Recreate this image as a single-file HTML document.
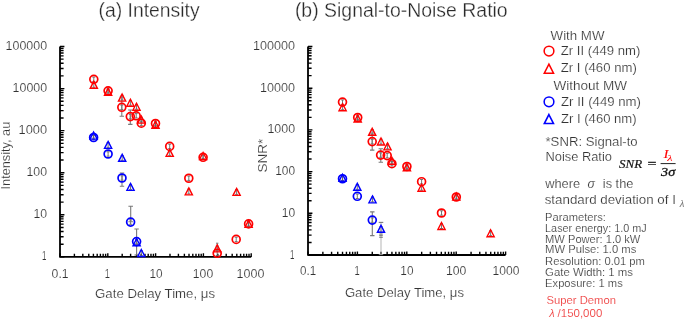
<!DOCTYPE html>
<html><head><meta charset="utf-8"><style>
html,body{margin:0;padding:0;background:#fff;width:685px;height:320px;overflow:hidden}
svg{display:block;will-change:transform}
</style></head><body>
<svg width="685" height="320" viewBox="0 0 685 320">
<rect width="685" height="320" fill="#fff"/>
<path d="M60.0 46.5V256.9H251.2" stroke="#000" stroke-width="1.8" fill="none" stroke-linejoin="round"/>
<path d="M60.0 256.90H64.4M60.0 244.23H63.6M60.0 236.82H63.6M60.0 231.57H63.6M60.0 227.49H63.6M60.0 224.16H63.6M60.0 221.34H63.6M60.0 218.90H63.6M60.0 216.75H63.6M60.0 214.82H64.4M60.0 202.15H63.6M60.0 194.74H63.6M60.0 189.49H63.6M60.0 185.41H63.6M60.0 182.08H63.6M60.0 179.26H63.6M60.0 176.82H63.6M60.0 174.67H63.6M60.0 172.74H64.4M60.0 160.07H63.6M60.0 152.66H63.6M60.0 147.41H63.6M60.0 143.33H63.6M60.0 140.00H63.6M60.0 137.18H63.6M60.0 134.74H63.6M60.0 132.59H63.6M60.0 130.66H64.4M60.0 117.99H63.6M60.0 110.58H63.6M60.0 105.33H63.6M60.0 101.25H63.6M60.0 97.92H63.6M60.0 95.10H63.6M60.0 92.66H63.6M60.0 90.51H63.6M60.0 88.58H64.4M60.0 75.91H63.6M60.0 68.50H63.6M60.0 63.25H63.6M60.0 59.17H63.6M60.0 55.84H63.6M60.0 53.02H63.6M60.0 50.58H63.6M60.0 48.43H63.6M60.0 46.50H64.4M60.00 256.9V253.29999999999998M74.39 256.9V253.7M82.81 256.9V253.7M88.78 256.9V253.7M93.41 256.9V253.7M97.20 256.9V253.7M100.40 256.9V253.7M103.17 256.9V253.7M105.61 256.9V253.7M107.80 256.9V253.29999999999998M122.19 256.9V253.7M130.61 256.9V253.7M136.58 256.9V253.7M141.21 256.9V253.7M145.00 256.9V253.7M148.20 256.9V253.7M150.97 256.9V253.7M153.41 256.9V253.7M155.60 256.9V253.29999999999998M169.99 256.9V253.7M178.41 256.9V253.7M184.38 256.9V253.7M189.01 256.9V253.7M192.80 256.9V253.7M196.00 256.9V253.7M198.77 256.9V253.7M201.21 256.9V253.7M203.40 256.9V253.29999999999998M217.79 256.9V253.7M226.21 256.9V253.7M232.18 256.9V253.7M236.81 256.9V253.7M240.60 256.9V253.7M243.80 256.9V253.7M246.57 256.9V253.7M249.01 256.9V253.7M251.20 256.9V253.29999999999998" stroke="#000" stroke-width="1.4" fill="none"/>
<path d="M308.0 46.5V255.0H505.6" stroke="#000" stroke-width="1.8" fill="none" stroke-linejoin="round"/>
<path d="M308.0 255.00H312.4M308.0 242.45H311.6M308.0 235.10H311.6M308.0 229.89H311.6M308.0 225.85H311.6M308.0 222.55H311.6M308.0 219.76H311.6M308.0 217.34H311.6M308.0 215.21H311.6M308.0 213.30H312.4M308.0 200.75H311.6M308.0 193.40H311.6M308.0 188.19H311.6M308.0 184.15H311.6M308.0 180.85H311.6M308.0 178.06H311.6M308.0 175.64H311.6M308.0 173.51H311.6M308.0 171.60H312.4M308.0 159.05H311.6M308.0 151.70H311.6M308.0 146.49H311.6M308.0 142.45H311.6M308.0 139.15H311.6M308.0 136.36H311.6M308.0 133.94H311.6M308.0 131.81H311.6M308.0 129.90H312.4M308.0 117.35H311.6M308.0 110.00H311.6M308.0 104.79H311.6M308.0 100.75H311.6M308.0 97.45H311.6M308.0 94.66H311.6M308.0 92.24H311.6M308.0 90.11H311.6M308.0 88.20H312.4M308.0 75.65H311.6M308.0 68.30H311.6M308.0 63.09H311.6M308.0 59.05H311.6M308.0 55.75H311.6M308.0 52.96H311.6M308.0 50.54H311.6M308.0 48.41H311.6M308.0 46.50H312.4M308.00 255.0V251.4M322.87 255.0V251.8M331.57 255.0V251.8M337.74 255.0V251.8M342.53 255.0V251.8M346.44 255.0V251.8M349.75 255.0V251.8M352.61 255.0V251.8M355.14 255.0V251.8M357.40 255.0V251.4M372.27 255.0V251.8M380.97 255.0V251.8M387.14 255.0V251.8M391.93 255.0V251.8M395.84 255.0V251.8M399.15 255.0V251.8M402.01 255.0V251.8M404.54 255.0V251.8M406.80 255.0V251.4M421.67 255.0V251.8M430.37 255.0V251.8M436.54 255.0V251.8M441.33 255.0V251.8M445.24 255.0V251.8M448.55 255.0V251.8M451.41 255.0V251.8M453.94 255.0V251.8M456.20 255.0V251.4M471.07 255.0V251.8M479.77 255.0V251.8M485.94 255.0V251.8M490.73 255.0V251.8M494.64 255.0V251.8M497.95 255.0V251.8M500.81 255.0V251.8M503.34 255.0V251.8M505.60 255.0V251.4" stroke="#000" stroke-width="1.4" fill="none"/>
<text x="98.50" y="16.80" textLength="101.18" lengthAdjust="spacingAndGlyphs" fill="#2a2a2a" stroke="#fff" stroke-width="0.28" style='font-family:"Liberation Sans";font-style:normal;font-size:19.5px'>(a) Intensity</text>
<text x="294.90" y="16.50" textLength="212.78" lengthAdjust="spacingAndGlyphs" fill="#2a2a2a" stroke="#fff" stroke-width="0.28" style='font-family:"Liberation Sans";font-style:normal;font-size:19.5px'>(b) Signal-to-Noise Ratio</text>
<text x="5.60" y="50.00" textLength="41.53" lengthAdjust="spacingAndGlyphs" fill="#333333" stroke="#fff" stroke-width="0.18" style='font-family:"Liberation Sans";font-style:normal;font-size:12.8px'>100000</text>
<text x="12.60" y="92.00" textLength="34.51" lengthAdjust="spacingAndGlyphs" fill="#333333" stroke="#fff" stroke-width="0.18" style='font-family:"Liberation Sans";font-style:normal;font-size:12.8px'>10000</text>
<text x="18.60" y="134.00" textLength="28.50" lengthAdjust="spacingAndGlyphs" fill="#333333" stroke="#fff" stroke-width="0.18" style='font-family:"Liberation Sans";font-style:normal;font-size:12.8px'>1000</text>
<text x="26.50" y="176.00" textLength="20.58" lengthAdjust="spacingAndGlyphs" fill="#333333" stroke="#fff" stroke-width="0.18" style='font-family:"Liberation Sans";font-style:normal;font-size:12.8px'>100</text>
<text x="33.50" y="218.00" textLength="13.63" lengthAdjust="spacingAndGlyphs" fill="#333333" stroke="#fff" stroke-width="0.18" style='font-family:"Liberation Sans";font-style:normal;font-size:12.8px'>10</text>
<text x="41.90" y="260.00" textLength="4.41" lengthAdjust="spacingAndGlyphs" fill="#333333" stroke="#fff" stroke-width="0.18" style='font-family:"Liberation Sans";font-style:normal;font-size:12.8px'>1</text>
<text x="253.10" y="50.00" textLength="42.03" lengthAdjust="spacingAndGlyphs" fill="#333333" stroke="#fff" stroke-width="0.18" style='font-family:"Liberation Sans";font-style:normal;font-size:12.8px'>100000</text>
<text x="260.10" y="91.70" textLength="35.01" lengthAdjust="spacingAndGlyphs" fill="#333333" stroke="#fff" stroke-width="0.18" style='font-family:"Liberation Sans";font-style:normal;font-size:12.8px'>10000</text>
<text x="267.40" y="133.40" textLength="27.70" lengthAdjust="spacingAndGlyphs" fill="#333333" stroke="#fff" stroke-width="0.18" style='font-family:"Liberation Sans";font-style:normal;font-size:12.8px'>1000</text>
<text x="275.20" y="175.10" textLength="19.88" lengthAdjust="spacingAndGlyphs" fill="#333333" stroke="#fff" stroke-width="0.18" style='font-family:"Liberation Sans";font-style:normal;font-size:12.8px'>100</text>
<text x="281.70" y="216.80" textLength="13.43" lengthAdjust="spacingAndGlyphs" fill="#333333" stroke="#fff" stroke-width="0.18" style='font-family:"Liberation Sans";font-style:normal;font-size:12.8px'>10</text>
<text x="289.90" y="258.50" textLength="4.41" lengthAdjust="spacingAndGlyphs" fill="#333333" stroke="#fff" stroke-width="0.18" style='font-family:"Liberation Sans";font-style:normal;font-size:12.8px'>1</text>
<text x="51.60" y="277.75" textLength="17.00" lengthAdjust="spacingAndGlyphs" fill="#333333" stroke="#fff" stroke-width="0.18" style='font-family:"Liberation Sans";font-style:normal;font-size:12.8px'>0.1</text>
<text x="104.80" y="277.75" textLength="5.21" lengthAdjust="spacingAndGlyphs" fill="#333333" stroke="#fff" stroke-width="0.18" style='font-family:"Liberation Sans";font-style:normal;font-size:12.8px'>1</text>
<text x="149.45" y="277.75" textLength="13.13" lengthAdjust="spacingAndGlyphs" fill="#333333" stroke="#fff" stroke-width="0.18" style='font-family:"Liberation Sans";font-style:normal;font-size:12.8px'>10</text>
<text x="192.80" y="277.75" textLength="20.38" lengthAdjust="spacingAndGlyphs" fill="#333333" stroke="#fff" stroke-width="0.18" style='font-family:"Liberation Sans";font-style:normal;font-size:12.8px'>100</text>
<text x="236.55" y="277.75" textLength="27.90" lengthAdjust="spacingAndGlyphs" fill="#333333" stroke="#fff" stroke-width="0.18" style='font-family:"Liberation Sans";font-style:normal;font-size:12.8px'>1000</text>
<text x="300.00" y="275.30" textLength="16.20" lengthAdjust="spacingAndGlyphs" fill="#333333" stroke="#fff" stroke-width="0.18" style='font-family:"Liberation Sans";font-style:normal;font-size:12.8px'>0.1</text>
<text x="354.60" y="275.30" textLength="5.21" lengthAdjust="spacingAndGlyphs" fill="#333333" stroke="#fff" stroke-width="0.18" style='font-family:"Liberation Sans";font-style:normal;font-size:12.8px'>1</text>
<text x="400.35" y="275.30" textLength="13.13" lengthAdjust="spacingAndGlyphs" fill="#333333" stroke="#fff" stroke-width="0.18" style='font-family:"Liberation Sans";font-style:normal;font-size:12.8px'>10</text>
<text x="446.00" y="275.30" textLength="20.38" lengthAdjust="spacingAndGlyphs" fill="#333333" stroke="#fff" stroke-width="0.18" style='font-family:"Liberation Sans";font-style:normal;font-size:12.8px'>100</text>
<text x="492.60" y="275.30" textLength="26.80" lengthAdjust="spacingAndGlyphs" fill="#333333" stroke="#fff" stroke-width="0.18" style='font-family:"Liberation Sans";font-style:normal;font-size:12.8px'>1000</text>
<text x="95.10" y="298.40" textLength="119.89" lengthAdjust="spacingAndGlyphs" fill="#333333" stroke="#fff" stroke-width="0.18" style='font-family:"Liberation Sans";font-style:normal;font-size:13.4px'>Gate Delay Time, μs</text>
<text x="344.90" y="297.00" textLength="119.09" lengthAdjust="spacingAndGlyphs" fill="#333333" stroke="#fff" stroke-width="0.18" style='font-family:"Liberation Sans";font-style:normal;font-size:13.4px'>Gate Delay Time, μs</text>
<text x="10.20" y="189.40" textLength="67.62" lengthAdjust="spacingAndGlyphs" fill="#333333" stroke="#fff" stroke-width="0.18" style='font-family:"Liberation Sans";font-style:normal;font-size:13.4px' transform="rotate(-90 10.2 189.4)">Intensity, au</text>
<text x="267.20" y="172.50" textLength="33.76" lengthAdjust="spacingAndGlyphs" fill="#333333" stroke="#fff" stroke-width="0.18" style='font-family:"Liberation Sans";font-style:normal;font-size:13.4px' transform="rotate(-90 267.2 172.5)">SNR*</text>
<text x="550.60" y="40.20" textLength="53.90" lengthAdjust="spacingAndGlyphs" fill="#333333" stroke="#fff" stroke-width="0.18" style='font-family:"Liberation Sans";font-style:normal;font-size:12.4px'>With MW</text>
<text x="560.80" y="55.00" textLength="79.52" lengthAdjust="spacingAndGlyphs" fill="#333333" stroke="#fff" stroke-width="0.18" style='font-family:"Liberation Sans";font-style:normal;font-size:12.4px'>Zr II (449 nm)</text>
<text x="560.80" y="71.60" textLength="75.99" lengthAdjust="spacingAndGlyphs" fill="#333333" stroke="#fff" stroke-width="0.18" style='font-family:"Liberation Sans";font-style:normal;font-size:12.4px'>Zr I (460 nm)</text>
<text x="553.40" y="90.10" textLength="73.60" lengthAdjust="spacingAndGlyphs" fill="#333333" stroke="#fff" stroke-width="0.18" style='font-family:"Liberation Sans";font-style:normal;font-size:12.4px'>Without MW</text>
<text x="561.00" y="106.00" textLength="80.02" lengthAdjust="spacingAndGlyphs" fill="#333333" stroke="#fff" stroke-width="0.18" style='font-family:"Liberation Sans";font-style:normal;font-size:12.4px'>Zr II (449 nm)</text>
<text x="561.00" y="123.40" textLength="75.59" lengthAdjust="spacingAndGlyphs" fill="#333333" stroke="#fff" stroke-width="0.18" style='font-family:"Liberation Sans";font-style:normal;font-size:12.4px'>Zr I (460 nm)</text>
<circle cx="549" cy="51.1" r="4.85" fill="none" stroke="#ff0000" stroke-width="1.55"/>
<path d="M548.9 64.21L553.50 73.21L544.30 73.21Z" fill="none" stroke="#ff0000" stroke-width="1.55" stroke-linejoin="miter"/>
<circle cx="549" cy="101.85" r="4.85" fill="none" stroke="#0000ff" stroke-width="1.55"/>
<path d="M548.9 114.56L553.50 123.56L544.30 123.56Z" fill="none" stroke="#0000ff" stroke-width="1.55" stroke-linejoin="miter"/>
<text x="545.50" y="145.60" textLength="92.18" lengthAdjust="spacingAndGlyphs" fill="#333333" stroke="#fff" stroke-width="0.18" style='font-family:"Liberation Sans";font-style:normal;font-size:12.4px'>*SNR: Signal-to</text>
<text x="545.50" y="160.50" textLength="66.39" lengthAdjust="spacingAndGlyphs" fill="#333333" stroke="#fff" stroke-width="0.18" style='font-family:"Liberation Sans";font-style:normal;font-size:12.4px'>Noise Ratio</text>
<text x="619.00" y="167.50" textLength="23.17" lengthAdjust="spacingAndGlyphs" fill="#111" stroke="#111" stroke-width="0.2" style='font-family:"Liberation Serif";font-style:italic;font-size:13.2px'>SNR</text>
<text x="647.50" y="167.90" textLength="8.98" lengthAdjust="spacingAndGlyphs" fill="#111" stroke="#111" stroke-width="0.3" style='font-family:"Liberation Serif";font-style:normal;font-size:13.2px'>=</text>
<path d="M660.6 163.6H675.6" stroke="#222" stroke-width="1"/>
<text x="663.67" y="157.50" textLength="4.56" lengthAdjust="spacingAndGlyphs" fill="#ff0000" stroke="#ff0000" stroke-width="0.2" style='font-family:"Liberation Serif";font-style:italic;font-size:12.5px'>I</text>
<text x="667.20" y="160.60" textLength="5.27" lengthAdjust="spacingAndGlyphs" fill="#ff0000" style='font-family:"Liberation Serif";font-style:italic;font-size:8.5px'>λ</text>
<text x="661.07" y="175.60" textLength="14.08" lengthAdjust="spacingAndGlyphs" fill="#111" stroke="#111" stroke-width="0.3" style='font-family:"Liberation Serif";font-style:italic;font-size:12.5px'>3σ</text>
<text x="545.16" y="188.10" textLength="34.92" lengthAdjust="spacingAndGlyphs" fill="#333333" stroke="#fff" stroke-width="0.18" style='font-family:"Liberation Sans";font-style:normal;font-size:12.4px'>where</text>
<text x="587.40" y="188.10" textLength="7.41" lengthAdjust="spacingAndGlyphs" fill="#333333" stroke="#fff" stroke-width="0.18" style='font-family:"Liberation Sans";font-style:italic;font-size:12.4px'>σ</text>
<text x="602.80" y="188.10" textLength="30.60" lengthAdjust="spacingAndGlyphs" fill="#333333" stroke="#fff" stroke-width="0.18" style='font-family:"Liberation Sans";font-style:normal;font-size:12.4px'>is the</text>
<text x="544.70" y="203.90" textLength="131.20" lengthAdjust="spacingAndGlyphs" fill="#333333" stroke="#fff" stroke-width="0.18" style='font-family:"Liberation Sans";font-style:normal;font-size:12.4px'>standard deviation of I</text>
<text x="679.86" y="207.20" textLength="4.56" lengthAdjust="spacingAndGlyphs" fill="#333333" stroke="#fff" stroke-width="0.18" style='font-family:"Liberation Sans";font-style:italic;font-size:8.5px'>λ</text>
<text x="545.10" y="220.50" textLength="60.72" lengthAdjust="spacingAndGlyphs" fill="#333333" stroke="#fff" stroke-width="0.18" style='font-family:"Liberation Sans";font-style:normal;font-size:11.2px'>Parameters:</text>
<text x="545.10" y="231.80" textLength="101.69" lengthAdjust="spacingAndGlyphs" fill="#333333" stroke="#fff" stroke-width="0.18" style='font-family:"Liberation Sans";font-style:normal;font-size:11.2px'>Laser energy: 1.0 mJ</text>
<text x="545.10" y="242.50" textLength="95.26" lengthAdjust="spacingAndGlyphs" fill="#333333" stroke="#fff" stroke-width="0.18" style='font-family:"Liberation Sans";font-style:normal;font-size:11.2px'>MW Power: 1.0 kW</text>
<text x="545.10" y="253.40" textLength="91.28" lengthAdjust="spacingAndGlyphs" fill="#333333" stroke="#fff" stroke-width="0.18" style='font-family:"Liberation Sans";font-style:normal;font-size:11.2px'>MW Pulse: 1.0 ms</text>
<text x="545.10" y="265.00" textLength="99.89" lengthAdjust="spacingAndGlyphs" fill="#333333" stroke="#fff" stroke-width="0.18" style='font-family:"Liberation Sans";font-style:normal;font-size:11.2px'>Resolution: 0.01 pm</text>
<text x="545.10" y="276.00" textLength="87.90" lengthAdjust="spacingAndGlyphs" fill="#333333" stroke="#fff" stroke-width="0.18" style='font-family:"Liberation Sans";font-style:normal;font-size:11.2px'>Gate Width: 1 ms</text>
<text x="545.10" y="286.90" textLength="77.63" lengthAdjust="spacingAndGlyphs" fill="#333333" stroke="#fff" stroke-width="0.18" style='font-family:"Liberation Sans";font-style:normal;font-size:11.2px'>Exposure: 1 ms</text>
<text x="546.60" y="304.20" textLength="69.40" lengthAdjust="spacingAndGlyphs" fill="#ee3030" stroke="#fff" stroke-width="0.15" style='font-family:"Liberation Sans";font-style:normal;font-size:11.4px'>Super Demon</text>
<text x="549.16" y="317.00" textLength="5.47" lengthAdjust="spacingAndGlyphs" fill="#ee3030" stroke="#fff" stroke-width="0.15" style='font-family:"Liberation Sans";font-style:italic;font-size:11.4px'>λ</text>
<text x="557.60" y="317.00" textLength="44.67" lengthAdjust="spacingAndGlyphs" fill="#ee3030" stroke="#fff" stroke-width="0.15" style='font-family:"Liberation Sans";font-style:normal;font-size:11.4px'>/150,000</text>
<path d="M93.8 77.1V81.5M92.3 77.1H95.3M92.3 81.5H95.3" stroke="#666" stroke-width="0.9" fill="none"/>
<path d="M108.1 88.6V93.0M106.6 88.6H109.6M106.6 93.0H109.6" stroke="#666" stroke-width="0.9" fill="none"/>
<path d="M121.8 105.1V109.5M120.3 105.1H123.3M120.3 109.5H123.3" stroke="#666" stroke-width="0.9" fill="none"/>
<path d="M130.3 114.39999999999999V118.8M128.8 114.39999999999999H131.8M128.8 118.8H131.8" stroke="#666" stroke-width="0.9" fill="none"/>
<path d="M136.2 113.6V118.0M134.7 113.6H137.7M134.7 118.0H137.7" stroke="#666" stroke-width="0.9" fill="none"/>
<path d="M141.3 121.0V125.4M139.8 121.0H142.8M139.8 125.4H142.8" stroke="#666" stroke-width="0.9" fill="none"/>
<path d="M155.5 121.3V125.7M154.0 121.3H157.0M154.0 125.7H157.0" stroke="#666" stroke-width="0.9" fill="none"/>
<path d="M169.7 144.20000000000002V148.6M168.2 144.20000000000002H171.2M168.2 148.6H171.2" stroke="#666" stroke-width="0.9" fill="none"/>
<path d="M188.8 176.05V180.45M187.3 176.05H190.3M187.3 180.45H190.3" stroke="#666" stroke-width="0.9" fill="none"/>
<path d="M203.1 155.10000000000002V159.5M201.6 155.10000000000002H204.6M201.6 159.5H204.6" stroke="#666" stroke-width="0.9" fill="none"/>
<path d="M217.2 251.10000000000002V255.5M215.7 251.10000000000002H218.7M215.7 255.5H218.7" stroke="#666" stroke-width="0.9" fill="none"/>
<path d="M236.2 237.20000000000002V241.6M234.7 237.20000000000002H237.7M234.7 241.6H237.7" stroke="#666" stroke-width="0.9" fill="none"/>
<path d="M248.6 221.70000000000002V226.1M247.1 221.70000000000002H250.1M247.1 226.1H250.1" stroke="#666" stroke-width="0.9" fill="none"/>
<path d="M342.5 99.89999999999999V104.3M341.0 99.89999999999999H344.0M341.0 104.3H344.0" stroke="#666" stroke-width="0.9" fill="none"/>
<path d="M357.7 115.3V119.7M356.2 115.3H359.2M356.2 119.7H359.2" stroke="#666" stroke-width="0.9" fill="none"/>
<path d="M372.2 139.4V143.79999999999998M370.7 139.4H373.7M370.7 143.79999999999998H373.7" stroke="#666" stroke-width="0.9" fill="none"/>
<path d="M380.6 152.9V157.29999999999998M379.1 152.9H382.1M379.1 157.29999999999998H382.1" stroke="#666" stroke-width="0.9" fill="none"/>
<path d="M387.2 153.4V157.79999999999998M385.7 153.4H388.7M385.7 157.79999999999998H388.7" stroke="#666" stroke-width="0.9" fill="none"/>
<path d="M391.9 161.5V165.89999999999998M390.4 161.5H393.4M390.4 165.89999999999998H393.4" stroke="#666" stroke-width="0.9" fill="none"/>
<path d="M406.9 164.3V168.7M405.4 164.3H408.4M405.4 168.7H408.4" stroke="#666" stroke-width="0.9" fill="none"/>
<path d="M421.6 179.5V183.89999999999998M420.1 179.5H423.1M420.1 183.89999999999998H423.1" stroke="#666" stroke-width="0.9" fill="none"/>
<path d="M441.5 210.8V215.2M440.0 210.8H443.0M440.0 215.2H443.0" stroke="#666" stroke-width="0.9" fill="none"/>
<path d="M456.3 194.8V199.2M454.8 194.8H457.8M454.8 199.2H457.8" stroke="#666" stroke-width="0.9" fill="none"/>
<path d="M93.6 135.3V139.7M92.1 135.3H95.1M92.1 139.7H95.1" stroke="#666" stroke-width="0.9" fill="none"/>
<path d="M108.1 151.8V156.2M106.6 151.8H109.6M106.6 156.2H109.6" stroke="#666" stroke-width="0.9" fill="none"/>
<path d="M122.0 175.8V180.2M120.5 175.8H123.5M120.5 180.2H123.5" stroke="#666" stroke-width="0.9" fill="none"/>
<path d="M130.6 219.9V224.29999999999998M129.1 219.9H132.1M129.1 224.29999999999998H132.1" stroke="#666" stroke-width="0.9" fill="none"/>
<path d="M136.6 239.4V243.79999999999998M135.1 239.4H138.1M135.1 243.79999999999998H138.1" stroke="#666" stroke-width="0.9" fill="none"/>
<path d="M342.5 176.55V180.95M341.0 176.55H344.0M341.0 180.95H344.0" stroke="#666" stroke-width="0.9" fill="none"/>
<path d="M357.3 194.10000000000002V198.5M355.8 194.10000000000002H358.8M355.8 198.5H358.8" stroke="#666" stroke-width="0.9" fill="none"/>
<path d="M372.3 217.9V222.29999999999998M370.8 217.9H373.8M370.8 222.29999999999998H373.8" stroke="#666" stroke-width="0.9" fill="none"/>
<path d="M93.8 82.5V87.30000000000001M92.3 82.5H95.3M92.3 87.30000000000001H95.3" stroke="#666" stroke-width="0.9" fill="none"/>
<path d="M108.1 89.5V94.30000000000001M106.6 89.5H109.6M106.6 94.30000000000001H109.6" stroke="#666" stroke-width="0.9" fill="none"/>
<path d="M122.1 95.3V100.10000000000001M120.6 95.3H123.6M120.6 100.10000000000001H123.6" stroke="#666" stroke-width="0.9" fill="none"/>
<path d="M130.4 100.39999999999999V105.2M128.9 100.39999999999999H131.9M128.9 105.2H131.9" stroke="#666" stroke-width="0.9" fill="none"/>
<path d="M136.5 104.39999999999999V109.2M135.0 104.39999999999999H138.0M135.0 109.2H138.0" stroke="#666" stroke-width="0.9" fill="none"/>
<path d="M141.3 117.3V122.10000000000001M139.8 117.3H142.8M139.8 122.10000000000001H142.8" stroke="#666" stroke-width="0.9" fill="none"/>
<path d="M155.5 122.39999999999999V127.2M154.0 122.39999999999999H157.0M154.0 127.2H157.0" stroke="#666" stroke-width="0.9" fill="none"/>
<path d="M169.7 150.6V155.4M168.2 150.6H171.2M168.2 155.4H171.2" stroke="#666" stroke-width="0.9" fill="none"/>
<path d="M188.8 189.1V193.9M187.3 189.1H190.3M187.3 193.9H190.3" stroke="#666" stroke-width="0.9" fill="none"/>
<path d="M203.1 153.7V158.5M201.6 153.7H204.6M201.6 158.5H204.6" stroke="#666" stroke-width="0.9" fill="none"/>
<path d="M217.2 246.1V250.9M215.7 246.1H218.7M215.7 250.9H218.7" stroke="#666" stroke-width="0.9" fill="none"/>
<path d="M236.6 189.6V194.4M235.1 189.6H238.1M235.1 194.4H238.1" stroke="#666" stroke-width="0.9" fill="none"/>
<path d="M248.6 221.5V226.3M247.1 221.5H250.1M247.1 226.3H250.1" stroke="#666" stroke-width="0.9" fill="none"/>
<path d="M342.6 104.89999999999999V109.7M341.1 104.89999999999999H344.1M341.1 109.7H344.1" stroke="#666" stroke-width="0.9" fill="none"/>
<path d="M357.7 116.19999999999999V121.0M356.2 116.19999999999999H359.2M356.2 121.0H359.2" stroke="#666" stroke-width="0.9" fill="none"/>
<path d="M372.2 129.5V134.3M370.7 129.5H373.7M370.7 134.3H373.7" stroke="#666" stroke-width="0.9" fill="none"/>
<path d="M381.0 139.2V144.0M379.5 139.2H382.5M379.5 144.0H382.5" stroke="#666" stroke-width="0.9" fill="none"/>
<path d="M387.5 144.1V148.9M386.0 144.1H389.0M386.0 148.9H389.0" stroke="#666" stroke-width="0.9" fill="none"/>
<path d="M391.9 158.4V163.20000000000002M390.4 158.4H393.4M390.4 163.20000000000002H393.4" stroke="#666" stroke-width="0.9" fill="none"/>
<path d="M406.9 165.0V169.8M405.4 165.0H408.4M405.4 169.8H408.4" stroke="#666" stroke-width="0.9" fill="none"/>
<path d="M421.6 185.4V190.20000000000002M420.1 185.4H423.1M420.1 190.20000000000002H423.1" stroke="#666" stroke-width="0.9" fill="none"/>
<path d="M441.5 223.7V228.5M440.0 223.7H443.0M440.0 228.5H443.0" stroke="#666" stroke-width="0.9" fill="none"/>
<path d="M456.3 194.29999999999998V199.1M454.8 194.29999999999998H457.8M454.8 199.1H457.8" stroke="#666" stroke-width="0.9" fill="none"/>
<path d="M490.6 230.9V235.70000000000002M489.1 230.9H492.1M489.1 235.70000000000002H492.1" stroke="#666" stroke-width="0.9" fill="none"/>
<path d="M93.6 133.29999999999998V138.1M92.1 133.29999999999998H95.1M92.1 138.1H95.1" stroke="#666" stroke-width="0.9" fill="none"/>
<path d="M108.1 142.6V147.4M106.6 142.6H109.6M106.6 147.4H109.6" stroke="#666" stroke-width="0.9" fill="none"/>
<path d="M122.2 155.5V160.3M120.7 155.5H123.7M120.7 160.3H123.7" stroke="#666" stroke-width="0.9" fill="none"/>
<path d="M130.5 184.6V189.4M129.0 184.6H132.0M129.0 189.4H132.0" stroke="#666" stroke-width="0.9" fill="none"/>
<path d="M136.6 239.9V244.70000000000002M135.1 239.9H138.1M135.1 244.70000000000002H138.1" stroke="#666" stroke-width="0.9" fill="none"/>
<path d="M141.3 250.7V255.5M139.8 250.7H142.8M139.8 255.5H142.8" stroke="#666" stroke-width="0.9" fill="none"/>
<path d="M342.5 175.5V180.3M341.0 175.5H344.0M341.0 180.3H344.0" stroke="#666" stroke-width="0.9" fill="none"/>
<path d="M357.3 184.5V189.3M355.8 184.5H358.8M355.8 189.3H358.8" stroke="#666" stroke-width="0.9" fill="none"/>
<path d="M372.5 197.1V201.9M371.0 197.1H374.0M371.0 201.9H374.0" stroke="#666" stroke-width="0.9" fill="none"/>
<path d="M381.0 226.5V231.3M379.5 226.5H382.5M379.5 231.3H382.5" stroke="#666" stroke-width="0.9" fill="none"/>
<path d="M121.8 97.0V116.3M119.6 97.0H124.0M119.6 116.3H124.0" stroke="#7a7a7a" stroke-width="1.1" fill="none"/>
<path d="M130.3 110.0V124.4M128.10000000000002 110.0H132.5M128.10000000000002 124.4H132.5" stroke="#7a7a7a" stroke-width="1.1" fill="none"/>
<path d="M122.0 173.0V186.25M119.8 173.0H124.2M119.8 186.25H124.2" stroke="#7a7a7a" stroke-width="1.1" fill="none"/>
<path d="M130.7 206.2V221.7M128.39999999999998 206.2H133.0M128.39999999999998 221.7H133.0" stroke="#7a7a7a" stroke-width="1.1" fill="none"/>
<path d="M136.6 229.0V255.0M134.4 229.0H138.79999999999998M134.4 255.0H138.79999999999998" stroke="#7a7a7a" stroke-width="1.1" fill="none"/>
<path d="M217.2 243.2V250.0M216.0 243.2H218.39999999999998M216.0 250.0H218.39999999999998" stroke="#7a7a7a" stroke-width="1.0" fill="none"/>
<path d="M372.2 133.0V150.1M370.0 133.0H374.4M370.0 150.1H374.4" stroke="#7a7a7a" stroke-width="1.1" fill="none"/>
<path d="M380.8 148.8V162.2M378.6 148.8H383.0M378.6 162.2H383.0" stroke="#7a7a7a" stroke-width="1.1" fill="none"/>
<path d="M372.3 211.9V235.6M370.1 211.9H374.5M370.1 235.6H374.5" stroke="#7a7a7a" stroke-width="1.1" fill="none"/>
<path d="M381.0 222.4V254.6M378.8 222.4H383.2M378.8 254.6H383.2" stroke="#a8a8a8" stroke-width="0.85" fill="none"/>
<path d="M378.8 222.4H383.2M379.2 234.1H382.8M379.2 235.7H382.8M379.2 237.3H382.8" stroke="#777" stroke-width="1"/>
<circle cx="93.8" cy="79.3" r="3.95" fill="none" stroke="#ff0000" stroke-width="1.7"/>
<circle cx="108.1" cy="90.8" r="3.95" fill="none" stroke="#ff0000" stroke-width="1.7"/>
<circle cx="121.8" cy="107.3" r="3.95" fill="none" stroke="#ff0000" stroke-width="1.7"/>
<circle cx="130.3" cy="116.6" r="3.95" fill="none" stroke="#ff0000" stroke-width="1.7"/>
<circle cx="136.2" cy="115.8" r="3.95" fill="none" stroke="#ff0000" stroke-width="1.7"/>
<circle cx="141.3" cy="123.2" r="3.95" fill="none" stroke="#ff0000" stroke-width="1.7"/>
<circle cx="155.5" cy="123.5" r="3.95" fill="none" stroke="#ff0000" stroke-width="1.7"/>
<circle cx="169.7" cy="146.4" r="3.95" fill="none" stroke="#ff0000" stroke-width="1.7"/>
<circle cx="188.8" cy="178.25" r="3.95" fill="none" stroke="#ff0000" stroke-width="1.7"/>
<circle cx="203.1" cy="157.3" r="3.95" fill="none" stroke="#ff0000" stroke-width="1.7"/>
<circle cx="217.2" cy="253.3" r="3.95" fill="none" stroke="#ff0000" stroke-width="1.7"/>
<circle cx="236.2" cy="239.4" r="3.95" fill="none" stroke="#ff0000" stroke-width="1.7"/>
<circle cx="248.6" cy="223.9" r="3.95" fill="none" stroke="#ff0000" stroke-width="1.7"/>
<circle cx="342.5" cy="102.1" r="3.95" fill="none" stroke="#ff0000" stroke-width="1.7"/>
<circle cx="357.7" cy="117.5" r="3.95" fill="none" stroke="#ff0000" stroke-width="1.7"/>
<circle cx="372.2" cy="141.6" r="3.95" fill="none" stroke="#ff0000" stroke-width="1.7"/>
<circle cx="380.6" cy="155.1" r="3.95" fill="none" stroke="#ff0000" stroke-width="1.7"/>
<circle cx="387.2" cy="155.6" r="3.95" fill="none" stroke="#ff0000" stroke-width="1.7"/>
<circle cx="391.9" cy="163.7" r="3.95" fill="none" stroke="#ff0000" stroke-width="1.7"/>
<circle cx="406.9" cy="166.5" r="3.95" fill="none" stroke="#ff0000" stroke-width="1.7"/>
<circle cx="421.6" cy="181.7" r="3.95" fill="none" stroke="#ff0000" stroke-width="1.7"/>
<circle cx="441.5" cy="213.0" r="3.95" fill="none" stroke="#ff0000" stroke-width="1.7"/>
<circle cx="456.3" cy="197.0" r="3.95" fill="none" stroke="#ff0000" stroke-width="1.7"/>
<path d="M93.8 81.32L97.40 88.32L90.20 88.32Z" fill="none" stroke="#ff0000" stroke-width="1.4" stroke-linejoin="miter"/>
<path d="M108.1 88.32L111.70 95.32L104.50 95.32Z" fill="none" stroke="#ff0000" stroke-width="1.4" stroke-linejoin="miter"/>
<path d="M122.1 94.12L125.70 101.12L118.50 101.12Z" fill="none" stroke="#ff0000" stroke-width="1.4" stroke-linejoin="miter"/>
<path d="M130.4 99.22L134.00 106.22L126.80 106.22Z" fill="none" stroke="#ff0000" stroke-width="1.4" stroke-linejoin="miter"/>
<path d="M136.5 103.22L140.10 110.22L132.90 110.22Z" fill="none" stroke="#ff0000" stroke-width="1.4" stroke-linejoin="miter"/>
<path d="M141.3 116.12L144.90 123.12L137.70 123.12Z" fill="none" stroke="#ff0000" stroke-width="1.4" stroke-linejoin="miter"/>
<path d="M155.5 121.22L159.10 128.22L151.90 128.22Z" fill="none" stroke="#ff0000" stroke-width="1.4" stroke-linejoin="miter"/>
<path d="M169.7 149.42L173.30 156.42L166.10 156.42Z" fill="none" stroke="#ff0000" stroke-width="1.4" stroke-linejoin="miter"/>
<path d="M188.8 187.92L192.40 194.92L185.20 194.92Z" fill="none" stroke="#ff0000" stroke-width="1.4" stroke-linejoin="miter"/>
<path d="M203.1 152.52L206.70 159.52L199.50 159.52Z" fill="none" stroke="#ff0000" stroke-width="1.4" stroke-linejoin="miter"/>
<path d="M217.2 244.92L220.80 251.92L213.60 251.92Z" fill="none" stroke="#ff0000" stroke-width="1.4" stroke-linejoin="miter"/>
<path d="M236.6 188.42L240.20 195.42L233.00 195.42Z" fill="none" stroke="#ff0000" stroke-width="1.4" stroke-linejoin="miter"/>
<path d="M248.6 220.32L252.20 227.32L245.00 227.32Z" fill="none" stroke="#ff0000" stroke-width="1.4" stroke-linejoin="miter"/>
<path d="M342.6 103.72L346.20 110.72L339.00 110.72Z" fill="none" stroke="#ff0000" stroke-width="1.4" stroke-linejoin="miter"/>
<path d="M357.7 115.02L361.30 122.02L354.10 122.02Z" fill="none" stroke="#ff0000" stroke-width="1.4" stroke-linejoin="miter"/>
<path d="M372.2 128.32L375.80 135.32L368.60 135.32Z" fill="none" stroke="#ff0000" stroke-width="1.4" stroke-linejoin="miter"/>
<path d="M381.0 138.02L384.60 145.02L377.40 145.02Z" fill="none" stroke="#ff0000" stroke-width="1.4" stroke-linejoin="miter"/>
<path d="M387.5 142.92L391.10 149.92L383.90 149.92Z" fill="none" stroke="#ff0000" stroke-width="1.4" stroke-linejoin="miter"/>
<path d="M391.9 157.22L395.50 164.22L388.30 164.22Z" fill="none" stroke="#ff0000" stroke-width="1.4" stroke-linejoin="miter"/>
<path d="M406.9 163.82L410.50 170.82L403.30 170.82Z" fill="none" stroke="#ff0000" stroke-width="1.4" stroke-linejoin="miter"/>
<path d="M421.6 184.22L425.20 191.22L418.00 191.22Z" fill="none" stroke="#ff0000" stroke-width="1.4" stroke-linejoin="miter"/>
<path d="M441.5 222.52L445.10 229.52L437.90 229.52Z" fill="none" stroke="#ff0000" stroke-width="1.4" stroke-linejoin="miter"/>
<path d="M456.3 193.12L459.90 200.12L452.70 200.12Z" fill="none" stroke="#ff0000" stroke-width="1.4" stroke-linejoin="miter"/>
<path d="M490.6 229.72L494.20 236.72L487.00 236.72Z" fill="none" stroke="#ff0000" stroke-width="1.4" stroke-linejoin="miter"/>
<circle cx="93.6" cy="137.5" r="3.95" fill="none" stroke="#0000ff" stroke-width="1.7"/>
<circle cx="108.1" cy="154.0" r="3.95" fill="none" stroke="#0000ff" stroke-width="1.7"/>
<circle cx="122.0" cy="178.0" r="3.95" fill="none" stroke="#0000ff" stroke-width="1.7"/>
<circle cx="130.6" cy="222.1" r="3.95" fill="none" stroke="#0000ff" stroke-width="1.7"/>
<circle cx="136.6" cy="241.6" r="3.95" fill="none" stroke="#0000ff" stroke-width="1.7"/>
<circle cx="342.5" cy="178.75" r="3.95" fill="none" stroke="#0000ff" stroke-width="1.7"/>
<circle cx="357.3" cy="196.3" r="3.95" fill="none" stroke="#0000ff" stroke-width="1.7"/>
<circle cx="372.3" cy="220.1" r="3.95" fill="none" stroke="#0000ff" stroke-width="1.7"/>
<path d="M93.6 132.12L97.20 139.12L90.00 139.12Z" fill="none" stroke="#0000ff" stroke-width="1.4" stroke-linejoin="miter"/>
<path d="M108.1 141.42L111.70 148.42L104.50 148.42Z" fill="none" stroke="#0000ff" stroke-width="1.4" stroke-linejoin="miter"/>
<path d="M122.2 154.32L125.80 161.32L118.60 161.32Z" fill="none" stroke="#0000ff" stroke-width="1.4" stroke-linejoin="miter"/>
<path d="M130.5 183.42L134.10 190.42L126.90 190.42Z" fill="none" stroke="#0000ff" stroke-width="1.4" stroke-linejoin="miter"/>
<path d="M136.6 238.72L140.20 245.72L133.00 245.72Z" fill="none" stroke="#0000ff" stroke-width="1.4" stroke-linejoin="miter"/>
<path d="M141.3 249.52L144.90 256.52L137.70 256.52Z" fill="none" stroke="#0000ff" stroke-width="1.4" stroke-linejoin="miter"/>
<path d="M342.5 174.32L346.10 181.32L338.90 181.32Z" fill="none" stroke="#0000ff" stroke-width="1.4" stroke-linejoin="miter"/>
<path d="M357.3 183.32L360.90 190.32L353.70 190.32Z" fill="none" stroke="#0000ff" stroke-width="1.4" stroke-linejoin="miter"/>
<path d="M372.5 195.92L376.10 202.92L368.90 202.92Z" fill="none" stroke="#0000ff" stroke-width="1.4" stroke-linejoin="miter"/>
<path d="M381.0 225.32L384.60 232.32L377.40 232.32Z" fill="none" stroke="#0000ff" stroke-width="1.4" stroke-linejoin="miter"/>
</svg>
</body></html>
